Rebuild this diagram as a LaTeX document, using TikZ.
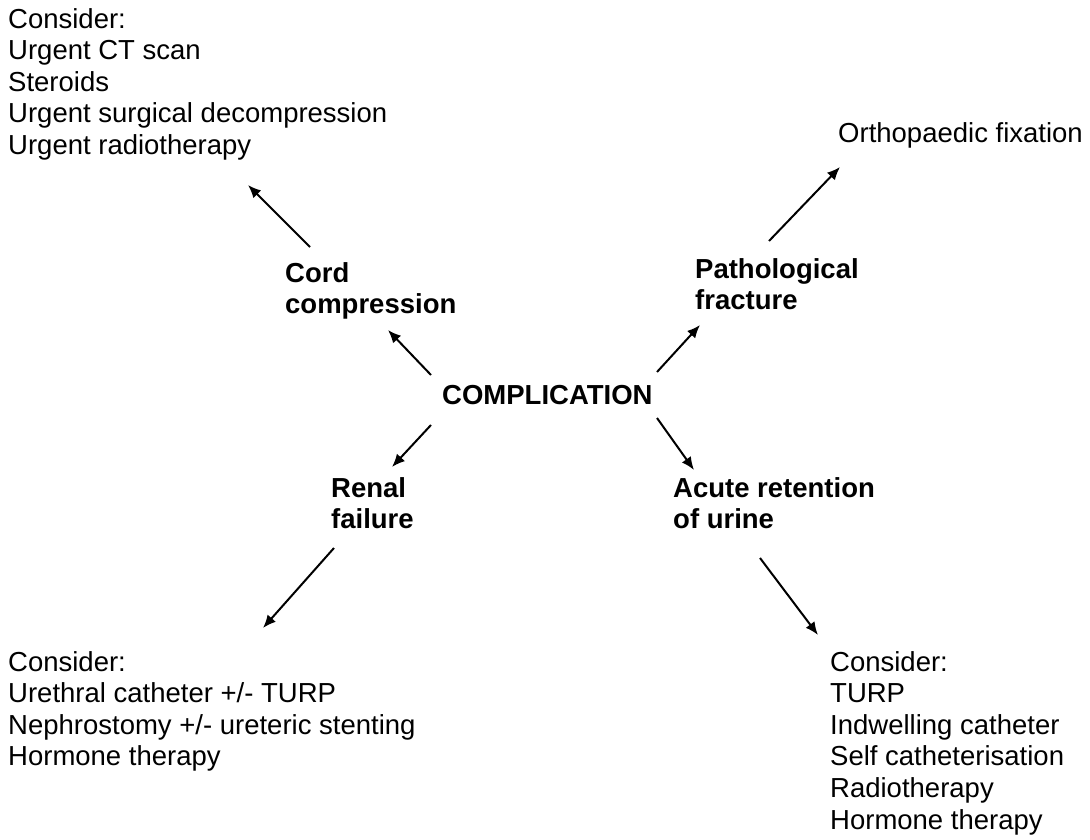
\documentclass[tikz,border=0pt]{standalone}
\usepackage{fontspec}
\setmainfont{Liberation Sans}
\usetikzlibrary{arrows.meta,calc}
\begin{document}
\begin{tikzpicture}[x=1pt,y=-1pt,
  txt/.style={inner sep=0pt,anchor=north west,align=left,font=\fontsize{27.5}{31.6}\selectfont},
  lbl/.style={txt,font=\fontsize{27.5}{31.6}\selectfont\bfseries},
  arr/.style={line width=2pt,-{Latex[length=13pt,width=11pt]}}]
\fill[white] (0,0) rectangle (1090,840);
\useasboundingbox (0,0) rectangle (1090,840);
\node[txt] (tl) at (8,8) {Consider:\\Urgent CT scan\\Steroids\\Urgent surgical decompression\\Urgent radiotherapy};
\node[txt] (ortho) at (838,122) {Orthopaedic fixation};
\node[lbl] (cord) at (285,262) {Cord\\compression};
\node[lbl] (patho) at (695,258) {Pathological\\fracture};
\node[lbl] (comp) at (442,385) {COMPLICATION};
\node[lbl] (renal) at (331,477) {Renal\\failure};
\node[lbl] (acute) at (673,477) {Acute retention\\of urine};
\node[txt] (bl) at (8,651) {Consider:\\Urethral catheter +/- TURP\\Nephrostomy +/- ureteric stenting\\Hormone therapy};
\node[txt] (br) at (830,651) {Consider:\\TURP\\Indwelling catheter\\Self catheterisation\\Radiotherapy\\Hormone therapy};
\draw[arr] ($(cord.north west)+(25,-15)$) -- ($(tl.north west)+(240,177)$);
\draw[arr] ($(comp.north west)+(-11,-10)$) -- ($(cord.north west)+(103,68)$);
\draw[arr] ($(comp.north west)+(215,-13)$) -- ($(patho.north west)+(5,67)$);
\draw[arr] ($(patho.north west)+(74,-17)$) -- ($(ortho.north west)+(2,45)$);
\draw[arr] ($(comp.north west)+(-11,40)$) -- ($(renal.north west)+(61,-10)$);
\draw[arr] ($(renal.north west)+(3,71)$) -- ($(bl.north west)+(255,-23)$);
\draw[arr] ($(comp.north west)+(215,33)$) -- ($(acute.north west)+(21,-7)$);
\draw[arr] ($(acute.north west)+(87,81)$) -- ($(br.north west)+(-12,-16)$);
\end{tikzpicture}
\end{document}
